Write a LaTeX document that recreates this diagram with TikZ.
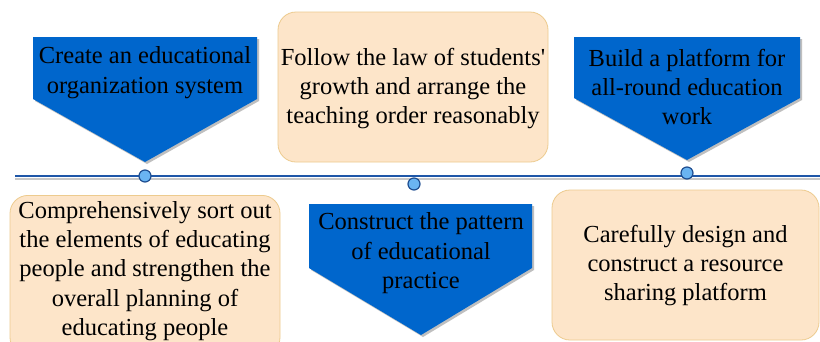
\documentclass[tikz,border=0pt]{standalone}
\usepackage{fontspec}
\setmainfont{Liberation Serif}
\newfontfamily\plainserif{Liberation Serif}[Ligatures=TeXOff]
\definecolor{bblue}{HTML}{0066CC}
\definecolor{peachfill}{HTML}{FDE5C9}
\definecolor{peachdraw}{HTML}{EDCB8E}
\definecolor{dotfill}{HTML}{6AB4F2}
\definecolor{dotdraw}{HTML}{1F4E91}
\definecolor{linecol}{HTML}{1F57A8}
\begin{document}
\begin{tikzpicture}[x=1pt,y=-1pt,
  blueshape/.style={fill=bblue},
  shadowshape/.style={fill=black!25},
  peachbox/.style={rounded corners=18pt, fill=peachfill, draw=peachdraw, line width=0.8pt,
    font=\fontsize{24.5}{29.4}\selectfont, align=center, inner sep=0pt},
  lbl/.style={font=\fontsize{24.5}{29.4}\selectfont, align=center, inner sep=0pt, text=black},
  dot/.style={circle, minimum size=12pt, inner sep=0pt, fill=dotfill, draw=dotdraw, line width=1.2pt},
  timeline/.style={draw=linecol, line width=1.4pt},
  timeshadow/.style={draw=black!22, line width=2pt}]
\useasboundingbox (0,0) rectangle (820,341);
\fill[white] (0,0) rectangle (820,341);

% timeline
\coordinate (L) at (15,176);
\coordinate (R) at (820,176);
\coordinate (Ls) at (15,178.5);
\coordinate (Rs) at (820,178.5);
\draw[timeshadow] (Ls) -- (Rs);
\draw[timeline] (L) -- (R);

% blue pentagons
\fill[shadowshape] (35,39) -- (259,39) -- (259,101) -- (147,164) -- (35,101) -- cycle;
\fill[blueshape] (33,37) -- (257,37) -- (257,99) -- (145,162) -- (33,99) -- cycle;
\node[lbl] (t1) at (145,72.5) {Create an educational\\organization system};

\fill[shadowshape] (576,39) -- (802,39) -- (802,100) -- (689,162) -- (576,100) -- cycle;
\fill[blueshape] (574,37) -- (800,37) -- (800,98) -- (687,160) -- (574,98) -- cycle;
\node[lbl] (t3) at (687,87) {Build a platform for\\all-round education\\work};

\fill[shadowshape] (311,206) -- (534,206) -- (534,270) -- (423,337) -- (311,270) -- cycle;
\fill[blueshape] (309,204) -- (532,204) -- (532,268) -- (421,335) -- (309,268) -- cycle;
\node[lbl] (t5) at (421,253.5) {Construct the pattern\\of educational\\practice};

% peach boxes
\node[peachbox, minimum width=270pt, minimum height=150pt] (b2) at (413,87) {};
\node[lbl] (t2) at (413,88.5) {Follow the law of students{\plainserif'}\\growth and arrange the\\teaching order reasonably};
\node[peachbox, minimum width=270pt, minimum height=160pt, anchor=north] (b4) at (145,195) {};
\node[lbl] (t4) at (145,271) {Comprehensively sort out\\the elements of educating\\people and strengthen the\\overall planning of\\educating people};
\node[peachbox, minimum width=267pt, minimum height=150pt] (b6) at (685.5,265) {};
\node[lbl] (t6) at (685.5,265.5) {Carefully design and\\construct a resource\\sharing platform};

% dots
\node[dot] (d1) at (145,176) {};
\node[dot] (d2) at (414,184) {};
\node[dot] (d3) at (687,173) {};
\end{tikzpicture}
\end{document}
